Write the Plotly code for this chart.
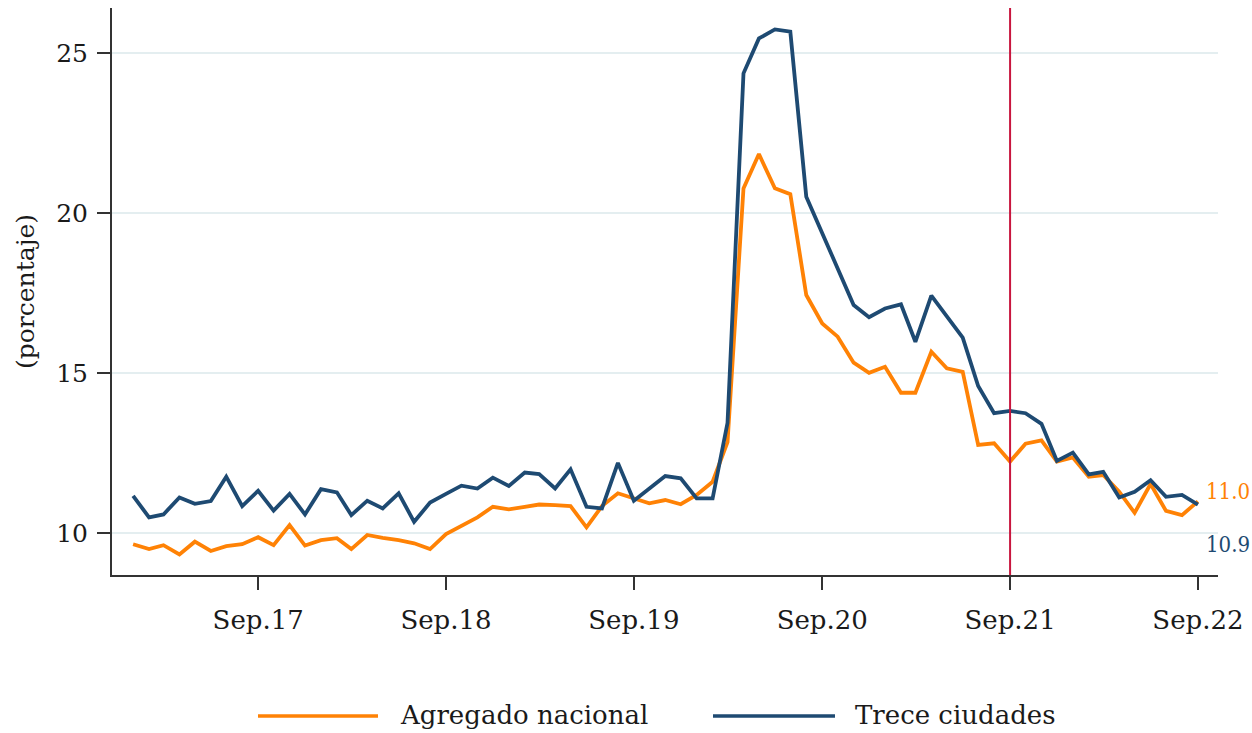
import pandas as pd
import plotly.graph_objects as go

# Monthly data, Jan 2017 - Sep 2022
dates = pd.date_range("2017-01-01", "2022-09-01", freq="MS")

nacional = [
    9.66, 9.51, 9.63, 9.34, 9.74, 9.45, 9.60, 9.66, 9.88, 9.63, 10.26, 9.62,   # 2017
    9.79, 9.85, 9.51, 9.95, 9.86, 9.79, 9.69, 9.51, 9.98, 10.24, 10.50, 10.83,  # 2018
    10.75, 10.83, 10.90, 10.88, 10.85, 10.19, 10.85, 11.25, 11.09, 10.94, 11.04, 10.91,  # 2019
    11.20, 11.61, 12.85, 20.77, 21.84, 20.77, 20.59, 17.44, 16.55, 16.14, 15.33, 15.01,  # 2020
    15.20, 14.39, 14.39, 15.67, 15.15, 15.04, 12.76, 12.81, 12.24, 12.80, 12.90, 12.24,  # 2021
    12.37, 11.77, 11.82, 11.30, 10.64, 11.54, 10.70, 10.57, 11.0,                  # 2022
]

trece = [
    11.17, 10.50, 10.59, 11.12, 10.92, 11.01, 11.77, 10.85, 11.33, 10.71, 11.23, 10.59,  # 2017
    11.38, 11.28, 10.57, 11.02, 10.78, 11.25, 10.36, 10.96, 11.23, 11.49, 11.40, 11.74,  # 2018
    11.48, 11.90, 11.85, 11.40, 12.00, 10.83, 10.78, 12.20, 11.02, 11.40, 11.79, 11.72,  # 2019
    11.09, 11.09, 13.45, 24.36, 25.45, 25.73, 25.66, 20.51, 19.36, 18.22, 17.13, 16.75,  # 2020
    17.02, 17.15, 15.98, 17.42, 16.76, 16.11, 14.60, 13.75, 13.82, 13.75, 13.42, 12.26,  # 2021
    12.52, 11.84, 11.92, 11.12, 11.30, 11.66, 11.14, 11.20, 10.9,                  # 2022
]

series_names = ["Agregado nacional", "Trece ciudades"]
tick_dates = ["2017-09-01", "2018-09-01", "2019-09-01", "2020-09-01", "2021-09-01", "2022-09-01"]
tick_labels = ["Sep.17", "Sep.18", "Sep.19", "Sep.20", "Sep.21", "Sep.22"]
y_ticks = [10, 15, 20, 25]
marker_date = "2021-09-01"

ORANGE = "#FF8205"
BLUE = "#1E4A72"
RED = "#C8163E"
FONT = "DejaVu Serif"
TXT = "#1a1a1a"

fig = go.Figure()
fig.add_trace(go.Scatter(x=dates, y=nacional, mode="lines", name=series_names[0],
                         line=dict(color=ORANGE, width=3.8), showlegend=False))
fig.add_trace(go.Scatter(x=dates, y=trece, mode="lines", name=series_names[1],
                         line=dict(color=BLUE, width=3.8), showlegend=False))

# vertical reference line
fig.add_shape(type="line", xref="x", yref="paper", x0=marker_date, x1=marker_date,
              y0=0, y1=1, line=dict(color=RED, width=2), layer="above")

# end labels
END_FONT = "DejaVu Serif Condensed, DejaVu Serif"
fig.add_annotation(x=dates[-1], y=nacional[-1], text=f"{nacional[-1]:.1f}", showarrow=False,
                   xanchor="left", yanchor="middle", xshift=6, yshift=10,
                   font=dict(family=END_FONT, size=22, color=ORANGE))
fig.add_annotation(x=dates[-1], y=trece[-1], text=f"{trece[-1]:.1f}", showarrow=False,
                   xanchor="left", yanchor="middle", xshift=6, yshift=-40,
                   font=dict(family=END_FONT, size=22, color=BLUE))

# custom legend
leg_y = -0.2487
for (x0, x1, xt, col, name) in [(0.132, 0.2405, 0.2586, ORANGE, series_names[0]),
                                 (0.5434, 0.6537, 0.670, BLUE, series_names[1])]:
    fig.add_shape(type="line", xref="paper", yref="paper", x0=x0, x1=x1, y0=leg_y, y1=leg_y,
                  line=dict(color=col, width=3.5))
    fig.add_annotation(xref="paper", yref="paper", x=xt, y=leg_y + 0.002, text=name, showarrow=False,
                       xanchor="left", yanchor="middle",
                       font=dict(family=FONT, size=26, color=TXT))

fig.update_layout(
    width=1252, height=733,
    margin=dict(l=112, r=34, t=8, b=158, autoexpand=False),
    paper_bgcolor="white", plot_bgcolor="white",
    font=dict(family=FONT, size=26, color=TXT),
)
fig.update_xaxes(
    range=["2016-11-21", "2022-10-10"],
    tickvals=tick_dates, ticktext=tick_labels,
    showgrid=False, zeroline=False, automargin=False,
    showline=True, linecolor="#333", linewidth=2,
    ticks="outside", ticklen=13, tickwidth=2, tickcolor="#333",
    ticklabelstandoff=8,
    tickfont=dict(family=FONT, size=26, color=TXT),
)
fig.update_yaxes(
    range=[8.70, 26.40],
    tickvals=y_ticks,
    showgrid=True, gridcolor="#E4EEF0", gridwidth=2,
    zeroline=False, automargin=False,
    showline=True, linecolor="#333", linewidth=2,
    ticks="outside", ticklen=13, tickwidth=2, tickcolor="#333",
    ticklabelstandoff=4,
    tickfont=dict(family=FONT, size=25, color=TXT),
    title=dict(text="(porcentaje)", font=dict(family=FONT, size=25, color=TXT), standoff=14),
)

fig.write_html("out.html", config={"displayModeBar": False},
               post_script="document.body.style.margin='0px';document.body.style.overflow='hidden';")
